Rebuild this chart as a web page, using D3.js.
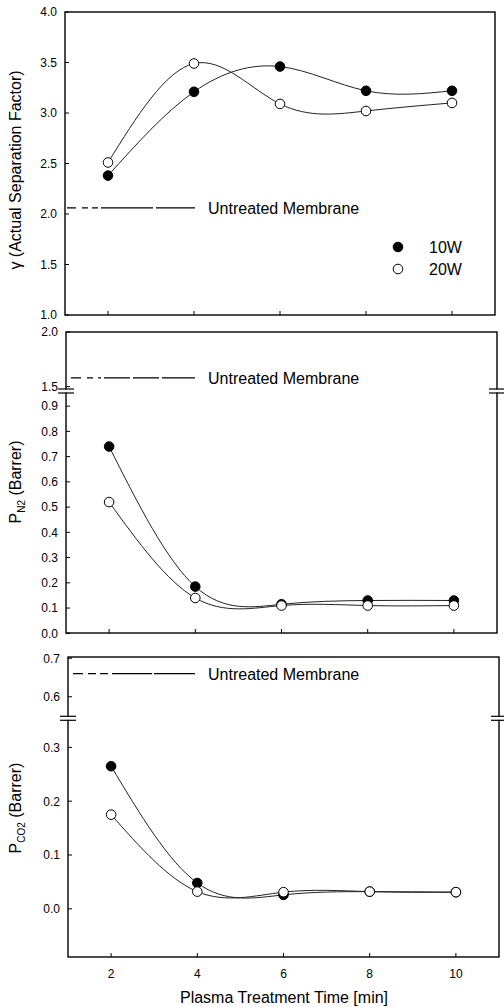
<!DOCTYPE html>
<html><head><meta charset="utf-8">
<script src="https://cdn.jsdelivr.net/npm/d3@7"></script>
<style>body{margin:0;background:#fff;} text{font-family:"Liberation Sans",Arial,sans-serif;fill:#000;}</style>
</head><body><svg id="c" width="504" height="1007"></svg>
<script>
// ---- data ----
const times = [2, 4, 6, 8, 10];
const xTicks = [2, 4, 6, 8, 10];
const sep10W = [2.38, 3.21, 3.46, 3.22, 3.22];
const sep20W = [2.51, 3.49, 3.09, 3.02, 3.10];
const pN2_10W = [0.74, 0.185, 0.115, 0.13, 0.13];
const pN2_20W = [0.52, 0.14, 0.11, 0.11, 0.11];
const pCO2_10W = [0.265, 0.048, 0.026, 0.032, 0.031];
const pCO2_20W = [0.175, 0.032, 0.031, 0.032, 0.031];
const untreatedSep = 2.06, untreatedN2 = 1.58, untreatedCO2 = 0.66;
const sepTicks = [1.0, 1.5, 2.0, 2.5, 3.0, 3.5, 4.0];
const n2Ticks = [0.0, 0.1, 0.2, 0.3, 0.4, 0.5, 0.6, 0.7, 0.8, 0.9, 1.5, 2.0];
const co2Ticks = [0.0, 0.1, 0.2, 0.3, 0.6, 0.7];
const seriesNames = ["10W", "20W"];
const untreatedLabel = "Untreated Membrane";

const svg = d3.select("#c");

function panel(cfg) {
  const g = svg.append("g");
  const x = d3.scaleLinear().domain([1, 11]).range([cfg.x0, cfg.x1]);
  const y = d3.scaleLinear().domain(cfg.ydom).range(cfg.yrng);
  // ticks inside
  g.selectAll(".yt").data(cfg.yticks).enter().append("line")
    .attr("x1", cfg.x0).attr("x2", cfg.x0 + 4)
    .attr("y1", d => y(d)).attr("y2", d => y(d)).attr("stroke", "#000").attr("stroke-width", 1);
  g.selectAll(".yl").data(cfg.yticks).enter().append("text")
    .attr("x", cfg.x0 - 8).attr("y", d => y(d)).attr("dy", "0.36em")
    .attr("text-anchor", "end").attr("font-size", 12).text(d => d3.format(".1f")(d));
  g.selectAll(".xt").data(xTicks).enter().append("line")
    .attr("x1", d => x(d)).attr("x2", d => x(d))
    .attr("y1", cfg.yb).attr("y2", cfg.yb - 4).attr("stroke", "#000").attr("stroke-width", 1);
  if (cfg.xlabels) {
    g.selectAll(".xl").data(xTicks).enter().append("text")
      .attr("x", d => x(d)).attr("y", cfg.yb + 21).attr("text-anchor", "middle")
      .attr("font-size", 12).text(d => d);
  }
  // frame
  g.append("rect").attr("x", cfg.x0).attr("y", cfg.yt).attr("width", cfg.x1 - cfg.x0)
    .attr("height", cfg.yb - cfg.yt).attr("fill", "none").attr("stroke", "#000").attr("stroke-width", 1.4);
  // breaks
  if (cfg.brk) {
    [cfg.x0, cfg.x1].forEach(bx => {
      g.append("rect").attr("x", bx - 2).attr("y", cfg.brk - 1.5).attr("width", 4).attr("height", 3).attr("fill", "#fff");
      [-2, 2].forEach(o => g.append("line").attr("x1", bx - 8).attr("x2", bx + 8)
        .attr("y1", cfg.brk + o).attr("y2", cfg.brk + o).attr("stroke", "#000").attr("stroke-width", 1.2));
    });
  }
  // untreated line
  const uy = y(cfg.untreated);
  g.append("line").attr("x1", cfg.x0 + 2).attr("x2", 195).attr("y1", uy).attr("y2", uy)
    .attr("stroke", "#000").attr("stroke-width", 1.3).attr("stroke-dasharray", cfg.dash);
  g.append("text").attr("x", 208).attr("y", uy + 6).attr("font-size", 16).text(untreatedLabel);
  // curves
  const line = d3.line().x(d => x(d[0])).y(d => y(d[1])).curve(d3.curveNatural);
  [cfg.s1, cfg.s2].forEach(s => {
    g.append("path").attr("d", line(times.map((t, i) => [t, s[i]])))
      .attr("fill", "none").attr("stroke", "#222").attr("stroke-width", 1);
  });
  [[cfg.s1, "#000"], [cfg.s2, "#fff"]].forEach(([s, fill]) => {
    g.selectAll(null).data(times.map((t, i) => [t, s[i]])).enter().append("circle")
      .attr("cx", d => x(d[0])).attr("cy", d => y(d[1])).attr("r", 4.8)
      .attr("fill", fill).attr("stroke", "#000").attr("stroke-width", 1);
  });
  return {g, x, y};
}

// top panel
panel({x0: 65, x1: 495, yt: 12, yb: 315, ydom: [1, 4], yrng: [315, 12],
  yticks: sepTicks, untreated: untreatedSep, dash: "9,6,6,4,6,3,52,3,60",
  s1: sep10W, s2: sep20W});
// middle panel
panel({x0: 66, x1: 497, yt: 332, yb: 633, ydom: [0, 0.96, 1.46, 2.0], yrng: [633.3, 391, 391, 332],
  brk: 391, yticks: n2Ticks, untreated: untreatedN2, dash: "0,3,10,6,6,5,3,3,26,3,26,3,60",
  s1: pN2_10W, s2: pN2_20W});
// bottom panel
panel({x0: 68, x1: 499, yt: 657, yb: 957, ydom: [-0.09, 0.354, 0.544, 0.704], yrng: [957.3, 718.3, 718.3, 656.7],
  brk: 718.3, yticks: co2Ticks, untreated: untreatedCO2, dash: "0,3,10,5,8,4,8,4,40,2,60",
  s1: pCO2_10W, s2: pCO2_20W, xlabels: true});

// legend
[[247, "#000", seriesNames[0]], [269, "#fff", seriesNames[1]]].forEach(([ly, f, t]) => {
  svg.append("circle").attr("cx", 398).attr("cy", ly).attr("r", 4.8).attr("fill", f).attr("stroke", "#000");
  svg.append("text").attr("x", 429).attr("y", ly + 5.5).attr("font-size", 16).text(t);
});

// axis titles
svg.append("text").attr("x", 284).attr("y", 1003).attr("text-anchor", "middle").attr("font-size", 16)
  .text("Plasma Treatment Time [min]");
svg.append("text").attr("transform", "translate(21,170) rotate(-90)").attr("text-anchor", "middle")
  .attr("font-size", 16).text("\u03B3  (Actual Separation Factor)");
const t2 = svg.append("text").attr("transform", "translate(21,482) rotate(-90)").attr("text-anchor", "middle").attr("font-size", 16);
t2.append("tspan").text("P");
t2.append("tspan").attr("font-size", 10).attr("dy", 4).text("N2");
t2.append("tspan").attr("dy", -4).text(" (Barrer)");
const t3 = svg.append("text").attr("transform", "translate(21,808) rotate(-90)").attr("text-anchor", "middle").attr("font-size", 16);
t3.append("tspan").text("P");
t3.append("tspan").attr("font-size", 10).attr("dy", 4).text("CO2");
t3.append("tspan").attr("dy", -4).text(" (Barrer)");
</script></body></html>
